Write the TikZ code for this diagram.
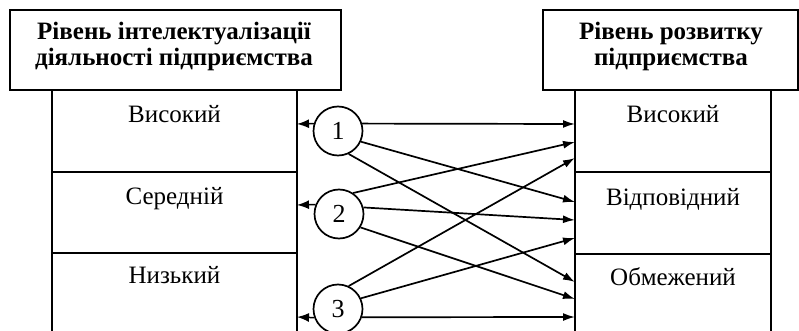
\documentclass[tikz,border=0pt]{standalone}
\usepackage{fontspec}
\setmainfont{Liberation Serif}
\usetikzlibrary{arrows.meta}
\begin{document}
\begin{tikzpicture}[x=1pt,y=-1pt,
  frame/.style={draw, line width=1.7pt},
  head/.style={font=\fontsize{25}{26}\selectfont\bfseries, align=center, inner sep=0pt},
  lab/.style={font=\fontsize{25}{28}\selectfont, inner sep=0pt, anchor=base},
  num/.style={circle, draw, line width=1.7pt, minimum size=49pt, inner sep=0pt, font=\fontsize{26}{28}\selectfont},
  link/.style={line width=1.7pt, -{Latex[length=12pt,width=8pt]}},
  back/.style={line width=1.5pt, -{Latex[length=12pt,width=9pt]}}]
\useasboundingbox (0,0) rectangle (799,331);
% left header
\draw[frame] (10,10) rectangle (341,90);
\node[head] (hl) at (174,46) {Рівень інтелектуалізації\\діяльності підприємства};
% left body
\draw[frame] (52,90) rectangle (297,172);
\draw[frame] (52,172) rectangle (297,253);
\draw[frame] (52,253) rectangle (297,345);
\node[lab] (l1) at (174.5,123) {Високий};
\node[lab] (l2) at (174.5,204) {Середній};
\node[lab] (l3) at (174.5,283) {Низький};
% right header
\draw[frame] (543,10) rectangle (798,90);
\node[head] (hr) at (671,46) {Рівень розвитку\\підприємства};
% right body
\draw[frame] (575,90) rectangle (771,172);
\draw[frame] (575,172) rectangle (771,254);
\draw[frame] (575,254) rectangle (771,345);
\node[lab] (r1) at (673,123) {Високий};
\node[lab] (r2) at (673,205) {Відповідний};
\node[lab] (r3) at (673,285) {Обмежений};
% circles
\node[num] (c1) at (338,131) {1};
\node[num] (c2) at (339,214) {2};
\node[num] (c3) at (338,309) {3};
% left arrow points
\coordinate (b1) at (297,124);
\coordinate (b2) at (297,205);
\coordinate (b3) at (297,317);
\draw[back] (c1.163) -- (b1);
\draw[back] (c2.158) -- (b2);
\draw[back] (c3.200) -- (b3);
% right targets
\coordinate (t1) at (575,124);
\coordinate (t2) at (575,142);
\coordinate (t3) at (575,158);
\coordinate (t4) at (575,202);
\coordinate (t5) at (575,220);
\coordinate (t6) at (575,238);
\coordinate (t7) at (575,282);
\coordinate (t8) at (575,299);
\coordinate (t9) at (575,317);
\draw[link] (c1.17) -- (t1);
\draw[link] (c1.-25) -- (t4);
\draw[link] (c1.-65) -- (t7);
\draw[link] (c2.56) -- (t2);
\draw[link] (c2.15) -- (t5);
\draw[link] (c2.-32) -- (t8);
\draw[link] (c3.65) -- (t3);
\draw[link] (c3.25) -- (t6);
\draw[link] (c3.-19.5) -- (t9);
\end{tikzpicture}
\end{document}
